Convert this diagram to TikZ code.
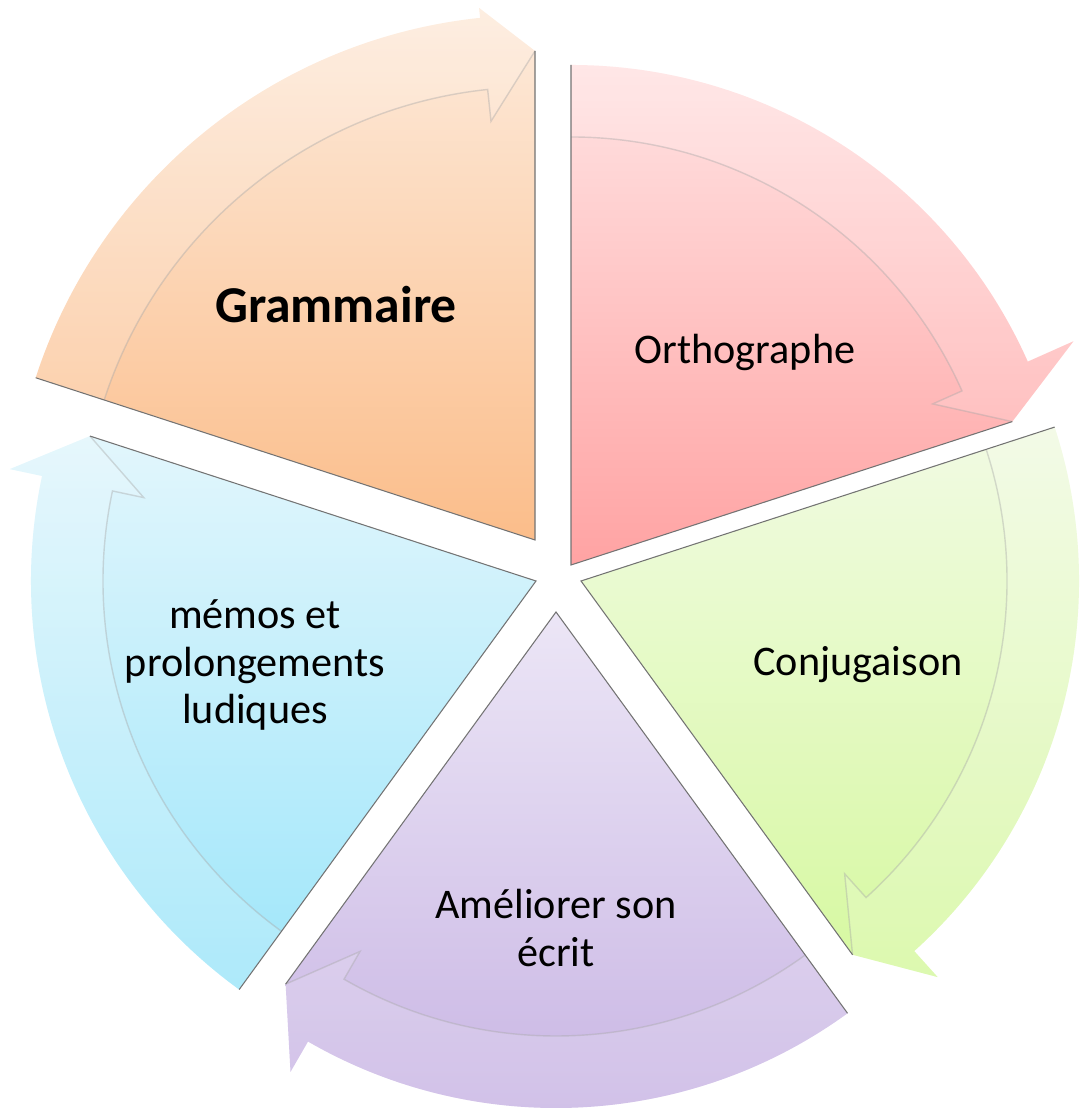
\documentclass[tikz,border=0pt]{standalone}
\usepackage{fontspec}
\setmainfont{Carlito}
\usetikzlibrary{calc}

\definecolor{gramtop}{HTML}{FDEBDC}
\definecolor{grambot}{HTML}{FBBD8A}
\definecolor{orthotop}{HTML}{FFE3E3}
\definecolor{orthobot}{HTML}{FFA3A3}
\definecolor{conjtop}{HTML}{F1FAE3}
\definecolor{conjbot}{HTML}{D6F9A0}
\definecolor{amelitop}{HTML}{ECE6F6}
\definecolor{amelibot}{HTML}{C7B3E3}
\definecolor{memostop}{HTML}{E2F6FC}
\definecolor{memosbot}{HTML}{9EE6FA}

% one piece of the cycle: apex x, apex y, start angle, outer radius, barb, colour prefix
\newcommand{\cyclepart}[6]{%
  \begin{scope}[shift={(#1,#2)}]
    \pgfmathsetmacro{\aend}{#3-72}
    \pgfmathsetmacro{\abase}{#3-66}
    \pgfmathsetmacro{\rin}{#4-72}
    \pgfmathsetmacro{\rtip}{#4-36}
    \pgfmathsetmacro{\rout}{#4+#5}
    \pgfmathsetmacro{\rbarb}{#4-104}
    % pie piece with its arrow head
    \path[top color=#6top, bottom color=#6bot]
      (0,0) -- (#3:#4) arc[start angle=#3, end angle=\abase, radius=#4]
      -- (\abase:\rout) -- (\aend:\rtip) -- cycle;
    % curved arrow band
    \fill[band]
      (#3:#4) arc[start angle=#3, end angle=\abase, radius=#4]
      -- (\abase:\rout) -- (\aend:\rtip) -- (\abase:\rbarb) -- (\abase:\rin)
      arc[start angle=\abase, end angle=#3, radius=\rin] -- cycle;
    \draw[bandline] (#3:\rin) arc[start angle=#3, end angle=\abase, radius=\rin]
      -- (\abase:\rbarb) -- (\aend:\rtip);
    % straight edges
    \draw[piece] (#3:#4) -- (0,0) -- (\aend:\rtip);
  \end{scope}}

\begin{document}
\begin{tikzpicture}[x=0.01cm, y=0.01cm]
  \tikzset{piece/.style = {draw=black!55, line width=0.3pt}}
  \tikzset{band/.style = {white, fill opacity=0.16}}
  \tikzset{bandline/.style = {black!35, line width=0.4pt, opacity=0.4}}
  \tikzset{label/.style = {align=center, font=\fontsize{12}{13.6}\selectfont}}
  \useasboundingbox (0,0) rectangle (1082,1110);
  % the five pieces, clockwise from the top left
  \cyclepart{535}{570}{162}{525}{10}{gram}
  \cyclepart{571}{545}{90}{500}{50}{ortho}
  \cyclepart{581}{529}{18}{498}{35}{conj}
  \cyclepart{556}{498}{-54}{496}{35}{ameli}
  \cyclepart{536}{529}{-126}{505}{33}{memos}
  % texts
  \node[label, font=\fontsize{14.7}{16}\selectfont\bfseries] (gram) at (336,805) {Grammaire};
  \node[label] (ortho) at (745,758) {Orthographe};
  \node[label] (conj) at (858,445) {Conjugaison};
  \node[label] (ameli) at (556,182) {Améliorer son\\écrit};
  \node[label] (memos) at (255,445) {mémos et\\prolongements\\ludiques};
\end{tikzpicture}
\end{document}
